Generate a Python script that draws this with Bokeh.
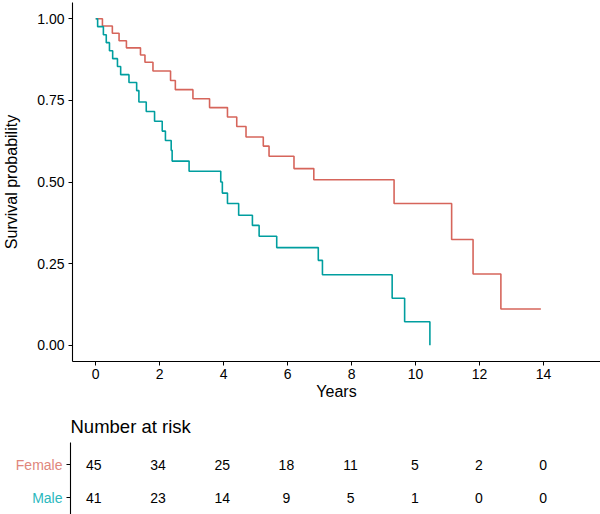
from bokeh.plotting import figure
from bokeh.models import FixedTicker, Range1d
from bokeh.embed import file_html
from bokeh.resources import INLINE
from bokeh.core.properties import value

# ---- data ----
female_time = [0, 0.21, 0.52, 0.73, 0.96, 1.40, 1.54, 1.79, 2.34, 2.49, 3.04, 3.56,
               4.12, 4.41, 4.70, 5.24, 5.42, 6.20, 6.82, 9.33, 11.13, 11.80, 12.67, 13.92]
female_surv = [1.0, 0.978, 0.956, 0.933, 0.911, 0.889, 0.867, 0.840, 0.811, 0.783, 0.755, 0.728,
               0.699, 0.670, 0.638, 0.610, 0.579, 0.541, 0.507, 0.434, 0.324, 0.218, 0.111, 0.111]

male_time = [0, 0.06, 0.24, 0.33, 0.43, 0.53, 0.68, 0.78, 1.04, 1.28, 1.35, 1.58, 1.84, 2.08,
             2.18, 2.36, 2.39, 2.92, 3.91, 3.96, 4.12, 4.47, 4.90, 5.11, 5.66, 6.96, 7.09,
             9.27, 9.66, 10.45]
male_surv = [1.0, 0.976, 0.951, 0.927, 0.902, 0.878, 0.854, 0.829, 0.805, 0.780, 0.745, 0.716,
             0.686, 0.656, 0.627, 0.597, 0.564, 0.533, 0.500, 0.466, 0.434, 0.398, 0.367, 0.334,
             0.299, 0.260, 0.216, 0.144, 0.072, 0.0]

risk_times = [0, 2, 4, 6, 8, 10, 12, 14]
female_risk = [45, 34, 25, 18, 11, 5, 2, 0]
male_risk = [41, 23, 14, 9, 5, 1, 0, 0]

y_ticks = [0, 0.25, 0.5, 0.75, 1.0]
y_tick_labels = ["0.00", "0.25", "0.50", "0.75", "1.00"]
groups = ["Female", "Male"]
group_row = [2, 1]

FONT = "Liberation Sans"
F_LINE = "#D6655B"
M_LINE = "#009E9F"
F_LAB = "#E0867C"
M_LAB = "#2BB8BD"

W = 600
LEFT = 70
X0, X1 = -0.726, 15.785
PX = (W - LEFT) / (X1 - X0)          # pixels per year

# ---- survival plot ----
KH = 408
p = figure(width=W, height=KH, x_range=Range1d(X0, X1), y_range=Range1d(-0.05, 1.05),
           output_backend="svg", toolbar_location=None,
           min_border_left=LEFT, min_border_right=0, min_border_top=2, min_border_bottom=47)
p.xgrid.visible = False
p.ygrid.visible = False
p.outline_line_color = None

p.step(female_time, female_surv, mode="after", line_color=F_LINE, line_width=1.6)
p.step(male_time, male_surv, mode="after", line_color=M_LINE, line_width=1.6)

for ax in (p.xaxis[0], p.yaxis[0]):
    ax.axis_line_color = "black"
    ax.axis_line_width = 1.1
    ax.major_tick_line_color = "black"
    ax.major_tick_out = 4
    ax.major_tick_in = 0
    ax.minor_tick_line_color = None
    ax.major_label_text_font = FONT
    ax.major_label_text_font_size = "14px"
    ax.major_label_text_color = "black"
    ax.axis_label_text_font = FONT
    ax.axis_label_text_font_size = "16px"
    ax.axis_label_text_font_style = "normal"
    ax.axis_label_text_color = "black"

p.xaxis.ticker = FixedTicker(ticks=risk_times)
p.xaxis.axis_label = "Years"
p.xaxis.major_label_standoff = 3
p.xaxis.axis_label_standoff = 1

p.yaxis.ticker = FixedTicker(ticks=y_ticks)
p.yaxis.major_label_overrides = {t: l for t, l in zip(y_ticks, y_tick_labels)}
p.yaxis.axis_label = "Survival probability"
p.yaxis.major_label_standoff = 4
p.yaxis.axis_label_standoff = 14

# ---- risk table (frame covers whole canvas; axis drawn by hand) ----
RH = 106
RY = 33.0                      # pixels per row unit
YTOP = 2 + 56 / RY             # Female row 56 px below the top
YBOT = YTOP - RH / RY
axis_top = YTOP - 34 / RY
title_y = YTOP - 18 / RY

r = figure(width=W, height=RH, x_range=Range1d(X0 - LEFT / PX, X1), y_range=Range1d(YBOT, YTOP),
           output_backend="svg", toolbar_location=None, x_axis_location=None, y_axis_location=None,
           min_border_left=0, min_border_right=0, min_border_top=0, min_border_bottom=0)
r.xgrid.visible = False
r.ygrid.visible = False
r.outline_line_color = None

xs = risk_times + risk_times
ys = [group_row[0]] * len(risk_times) + [group_row[1]] * len(risk_times)
txt = [str(v) for v in female_risk] + [str(v) for v in male_risk]
r.text(x=xs, y=ys, text=txt, text_align="center", text_baseline="middle",
       text_font=value(FONT), text_font_size="14px", text_color="black")

# axis line and ticks
r.segment(x0=[X0], y0=[YBOT], x1=[X0], y1=[axis_top], line_color="black", line_width=1.1)
r.segment(x0=[X0] * 2, y0=group_row, x1=[X0 - 4 / PX] * 2, y1=group_row,
          line_color="black", line_width=1.1)

r.text(x=[X0 - 8 / PX] * 2, y=group_row, text=groups, text_align="right", text_baseline="middle",
       text_font=value(FONT), text_font_size="14px", text_color=[F_LAB, M_LAB])

r.text(x=[X0], y=[title_y], text=["Number at risk"], text_align="left",
       text_baseline="middle", text_font=value(FONT), text_font_size="18.5px", text_color="black")

open("out.html", "w").write(file_html([p, r], INLINE))
